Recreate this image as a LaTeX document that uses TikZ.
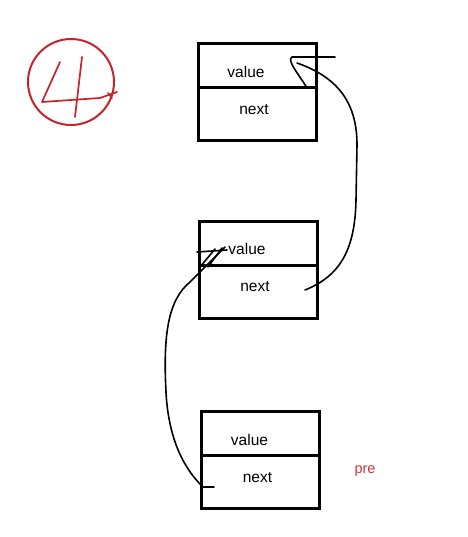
\documentclass[tikz,border=0pt]{standalone}
\usepackage{fontspec}
\setmainfont{Liberation Sans}
\usetikzlibrary{positioning}
\definecolor{markred}{RGB}{200,35,45}
\definecolor{prered}{RGB}{195,55,55}
\begin{document}
\begin{tikzpicture}[
        x=1pt, y=-1pt,
        font=\fontsize{15.5}{18}\selectfont,
        cell_box/.style={
            draw,
            line width=3pt,
            minimum width=118pt,
            inner sep=0pt,
            outer sep=0pt
        },
        value_cell/.style={cell_box, minimum height=44pt},
        next_cell/.style={cell_box, minimum height=53pt},
        hand_line/.style={line width=1.6pt, line cap=round, line join=round},
        red_mark/.style={draw=markred, line width=2pt, line cap=round, line join=round}
    ]
        \useasboundingbox (0,0) rectangle (467,537);

        % the three list nodes
        \node[value_cell] (v1) at (257,66) {};
        \node[next_cell, below=0pt of v1] (n1) {};
        \node[value_cell] (v2) at (258,243) {};
        \node[next_cell, below=0pt of v2] (n2) {};
        \node[value_cell] (v3) at (260.5,433.5) {};
        \node[next_cell, below=0pt of v3] (n3) {};

        \foreach \i in {1,2,3} {
            \node (tv\i) at ([shift={(-11,6)}]v\i.center) {value};
            \node (tn\i) at ([shift={(-3,-4.5)}]n\i.center) {next};
        }

        \node[text=prered, font=\fontsize{14.5}{17}\selectfont] (pre) at (365,471) {pre};

        % circled number
        \node[red_mark, circle, minimum size=86pt, inner sep=0pt] (num) at (71,82) {};
        \draw[red_mark, line width=1.7pt] (60,62) -- (42,102) -- (100,98) -- (117,92);
        \draw[red_mark, line width=1.7pt] (82,57) -- (75,117);
        \draw[red_mark, line width=1.7pt] (108,93) -- (112,98);

        % pointer from n2 up to v1
        \coordinate (p1 start) at (305,290);
        \coordinate (p1 tip) at (297,63);
        \draw[hand_line] (p1 start) .. controls (340,276) and (355,250) .. (356,200)
            -- (357,145) .. controls (357,105) and (340,78) .. (p1 tip);
        \draw[hand_line] (335,57) -- (292,57) .. controls (286,60) and (300,76) .. (307,88);

        % pointer from n3 up to v2
        \coordinate (p2 start) at (214,487);
        \coordinate (p2 tip) at (225,247);
        \draw[hand_line] (p2 start) -- (203,487) .. controls (180,465) and (168,432) .. (166,392)
            .. controls (163,335) and (168,300) .. (190,282) -- (p2 tip);
        \draw[hand_line] (197,252) -- (227,250);
        \draw[hand_line] (200,267) -- (215,249);
        \draw[hand_line] (208,267) -- (222,248);

    \end{tikzpicture}
\end{document}
